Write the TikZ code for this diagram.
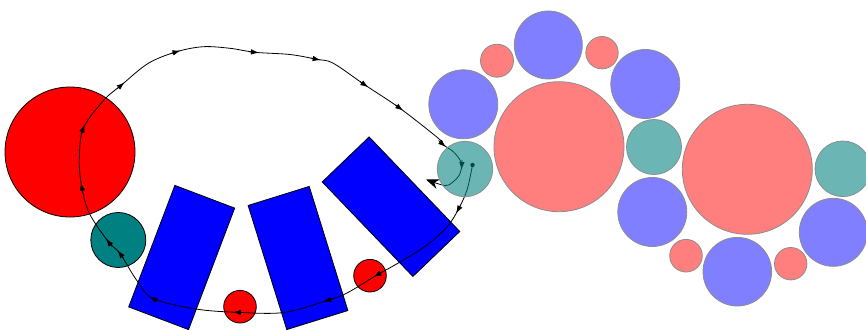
\documentclass[tikz,border=0pt]{standalone}
\usetikzlibrary{arrows.meta,calc}
\begin{document}
\begin{tikzpicture}[x=1pt,y=-1pt,
  solidc/.style={circle,draw=black,line width=0.8pt,inner sep=0pt,outer sep=0pt},
  ghostc/.style={circle,draw=black!45,line width=0.8pt,inner sep=0pt,outer sep=0pt},
  pinkc/.style={ghostc,fill=red,fill opacity=0.5},
  bluec/.style={ghostc,fill=blue,fill opacity=0.5},
  tealc/.style={ghostc,fill=teal,fill opacity=0.58},
  bar/.style={rectangle,draw=black,fill=blue,line width=0.8pt,inner sep=0pt,outer sep=0pt,minimum width=64pt,minimum height=130pt},
  trail/.style={line width=0.8pt,black},
  midtipstyle/.style={line width=0.8pt,black,-{Latex[length=8pt,width=5.5pt]}}]
\newcommand\midtip[3]{\draw[midtipstyle] let \p1=($(#3)-(#1)$), \n1={atan2(\y1,\x1)} in ($(#2)+(\n1+180:6pt)$) -- ($(#2)+(\n1:4pt)$);}
\clip (0,0) rectangle (866,329);
\useasboundingbox (0,0) rectangle (866,329);
% solid shapes on the left
\node[solidc,fill=red,minimum size=130pt] (bigred) at (70,152) {};
\node[solidc,fill=teal,minimum size=55pt] (lteal) at (118.3,240) {};
\node[bar,rotate=-20.8] (bar1) at (181.7,257.5) {};
\node[bar,rotate=17.3] (bar2) at (298,258) {};
\node[bar,minimum width=65pt,minimum height=131pt,rotate=43.8] (bar3) at (391,206.7) {};
\node[solidc,fill=red,minimum size=32.6pt] (rs1) at (240,306.7) {};
\node[solidc,fill=red,minimum size=32.6pt] (rs2) at (370,275.7) {};
% trajectory
\coordinate (p0) at (472.5,165);
\coordinate (p1) at (467,190);
\coordinate (p2) at (458,210);
\coordinate (p3) at (447,227);
\coordinate (p4) at (427,245);
\coordinate (p5) at (400,262);
\coordinate (p6) at (377,275);
\coordinate (p7) at (347,293);
\coordinate (p8) at (327,300.5);
\coordinate (p9) at (284,312.5);
\coordinate (p10) at (237,312.3);
\coordinate (p11) at (196,309);
\coordinate (p12) at (153,298.5);
\coordinate (p13) at (136.5,280);
\coordinate (p14) at (120,253.5);
\coordinate (p15) at (108.3,241.7);
\coordinate (p16) at (89.3,213.3);
\coordinate (p17) at (81.7,186.7);
\coordinate (p18) at (79.3,160);
\coordinate (p19) at (83.3,128.3);
\coordinate (p20) at (104,100);
\coordinate (p21) at (121.5,85);
\coordinate (p22) at (148.3,63.3);
\coordinate (p23) at (176.7,51.7);
\coordinate (p24) at (203.3,46.7);
\coordinate (p25) at (230,48.3);
\coordinate (p26) at (255,52.3);
\coordinate (p27) at (290,54.5);
\coordinate (p28) at (316.7,59.3);
\coordinate (p29) at (333.3,63.3);
\coordinate (p30) at (365,85);
\coordinate (p31) at (400,108.3);
\coordinate (p32) at (438.3,138.3);
\coordinate (p33) at (443,144.5);
\coordinate (p34) at (453.3,151.7);
\coordinate (p35) at (460,160);
\coordinate (p36) at (461.7,166);
\coordinate (p37) at (459.3,175);
\coordinate (p38) at (453.3,181.7);
\coordinate (p39) at (445,185.5);
\coordinate (pend) at (426,179.5);
\draw[trail,-{Stealth[length=13pt,width=10pt]}] plot[smooth,tension=0.55] coordinates {(p0) (p1) (p2) (p3) (p4) (p5) (p6) (p7) (p8) (p9) (p10) (p11) (p12) (p13) (p14) (p15) (p16) (p17) (p18) (p19) (p20) (p21) (p22) (p23) (p24) (p25) (p26) (p27) (p28) (p29) (p30) (p31) (p32) (p33) (p34) (p35) (p36) (p37) (p38) (p39) (pend)};
\fill (p0) circle (2.2pt);
\midtip{p1}{p2}{p3}
\midtip{p5}{p6}{p7}
\midtip{p7}{p8}{p9}
\midtip{p9}{p10}{p11}
\midtip{p11}{p12}{p13}
\midtip{p13}{p14}{p15}
\midtip{p14}{p15}{p16}
\midtip{p16}{p17}{p18}
\midtip{p18}{p19}{p20}
\midtip{p20}{p21}{p22}
\midtip{p22}{p23}{p24}
\midtip{p25}{p26}{p27}
\midtip{p27}{p28}{p29}
\midtip{p29}{p30}{p31}
\midtip{p30}{p31}{p32}
\midtip{p32}{p33}{p34}
\midtip{p35}{p36}{p37}
% translucent circles on the right
\node[tealc,minimum size=55.4pt] (tA) at (465,169) {};
\node[bluec,minimum size=69pt] (bA) at (463.3,104.3) {};
\node[pinkc,minimum size=33pt] (sA) at (497,60.7) {};
\node[bluec,minimum size=68pt] (bB) at (548.3,45) {};
\node[pinkc,minimum size=32.4pt] (sB) at (602,52.7) {};
\node[bluec,minimum size=69pt] (bC) at (645.3,84) {};
\node[pinkc,minimum size=130pt] (pA) at (559,146.7) {};
\node[tealc,minimum size=55pt] (tB) at (654,147) {};
\node[bluec,minimum size=69pt] (bD) at (652.3,212) {};
\node[pinkc,minimum size=130pt] (pB) at (747.3,169.3) {};
\node[tealc,minimum size=55.6pt] (tC) at (842.8,168.8) {};
\node[bluec,minimum size=68pt] (bE) at (833.3,232.3) {};
\node[pinkc,minimum size=32.6pt] (sC) at (686,255.7) {};
\node[bluec,minimum size=68.6pt] (bF) at (737.3,271.7) {};
\node[pinkc,minimum size=32.4pt] (sD) at (790.7,263.7) {};
\end{tikzpicture}
\end{document}
